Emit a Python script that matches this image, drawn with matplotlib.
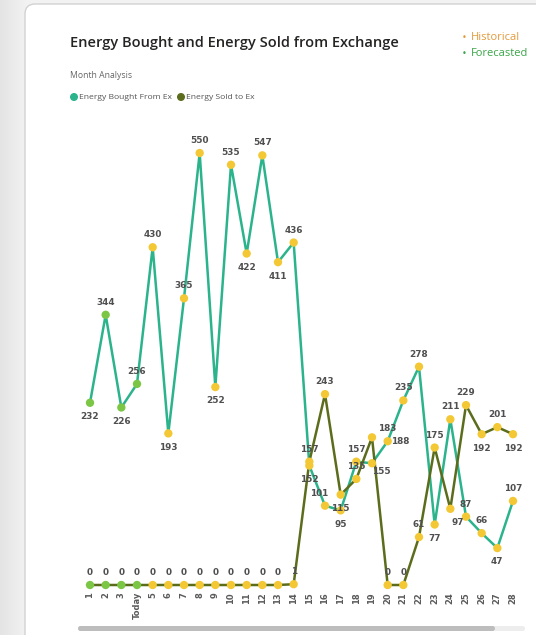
import numpy as np
import matplotlib
matplotlib.use('Agg')
import matplotlib.pyplot as plt
from matplotlib.patches import FancyBboxPatch, Circle

# Chart data
days = ['1', '2', '3', 'Today', '5', '6', '7', '8', '9', '10', '11', '12', '13', '14',
        '15', '16', '17', '18', '19', '20', '21', '22', '23', '24', '25', '26', '27', '28']
bought = [232, 344, 226, 256, 430, 193, 365, 550, 252, 535, 422, 547, 411, 436,
          152, 101, 95, 157, 155, 183, 235, 278, 77, 211, 87, 66, 47, 107]
sold = [0, 0, 0, 0, 0, 0, 0, 0, 0, 0, 0, 0, 0, 1,
        157, 243, 115, 135, 188, 0, 0, 61, 175, 97, 229, 192, 201, 192]
n_forecast = 4  # first points drawn in green

# label placement (points offset) per data point
bought_off = [(0, -10), (0, 9), (0, -10), (0, 9), (0, 9), (0, -10), (0, 9), (0, 9), (0, -10),
              (0, 9), (0, -10), (0, 9), (0, -10), (0, 9), (0, -10), (-4, 9), (0, -10), (0, 9),
              (7, -6), (0, 9), (0, 9), (0, 9), (0, -10), (0, 9), (0, 9), (0, 9), (0, -10), (0, 9)]
sold_off = [(0, 9)] * 14 + [(0, 9), (0, 9), (0, -10), (0, 9), (20, -3), (0, 9), (0, 9),
                            (0, 9), (0, 9), (5, -10), (0, 9), (0, -10), (0, 9), (0, -10)]

teal = '#2BB38C'
olive = '#5B6D1C'
yellow = '#F3C834'
green = '#7CC645'
lbl = '#4F4F4F'

W, H = 536, 635
fig = plt.figure(figsize=(W / 100, H / 100), dpi=100)
fig.patch.set_facecolor('#F2F2F2')

# background / card layer in pixel coordinates
bg = fig.add_axes([0, 0, 1, 1], zorder=0)
bg.axis('off')
grad = np.linspace(0, 1, 40).reshape(1, -1)
bg.imshow(grad, extent=(0, 28, H, 0), cmap=matplotlib.colors.LinearSegmentedColormap.from_list(
    'g', ['#E4E4E4', '#F3F3F3']), aspect='auto')
bg.add_patch(FancyBboxPatch((25, 4), 530, 650, boxstyle='round,pad=0,rounding_size=10',
                            facecolor='white', edgecolor='#D2D2D2', linewidth=1.0))
bg.set_xlim(0, W)
bg.set_ylim(H, 0)

# header
bg.text(70, 43, 'Energy Bought and Energy Sold from Exchange', fontsize=10.5,
        family='Open Sans', weight='semibold', color='#252423', va='center')
bg.text(462, 38, '•', fontsize=6, color='#E39A3B', va='center')
bg.text(471, 38, 'Historical', fontsize=8, family='Open Sans', color='#E39A3B', va='center')
bg.text(462, 54, '•', fontsize=6, color='#3AA649', va='center')
bg.text(471, 54, 'Forecasted', fontsize=8, family='Open Sans', color='#3AA649', va='center')
bg.text(70, 75, 'Month Analysis', fontsize=6.2, family='Open Sans', color='#666666', va='center')
bg.add_patch(Circle((74, 97), 3.3, color=teal))
bg.text(79, 97.5, 'Energy Bought From Ex', fontsize=6.1, family='Open Sans', color='#555555', va='center')
bg.add_patch(Circle((181, 97), 3.3, color=olive))
bg.text(186, 97.5, 'Energy Sold to Ex', fontsize=6.1, family='Open Sans', color='#555555', va='center')

# scrollbar
bg.add_patch(FancyBboxPatch((78, 626), 447, 5, boxstyle='round,pad=0,rounding_size=2.5',
                            facecolor='#EDEDED', edgecolor='none'))
bg.add_patch(FancyBboxPatch((78, 626), 417, 5, boxstyle='round,pad=0,rounding_size=2.5',
                            facecolor='#BDBDBD', edgecolor='none'))

# main chart
ax = fig.add_axes([90 / W, (H - 585) / H, 423 / W, (585 - 153) / H], zorder=1)
ax.patch.set_alpha(0)
x = np.arange(len(days))
ax.plot(x, bought, color=teal, lw=1.8, zorder=2, clip_on=False)
ax.plot(x, sold, color=olive, lw=1.8, zorder=3, clip_on=False)
mcol = [green] * n_forecast + [yellow] * (len(days) - n_forecast)
ax.scatter(x, bought, c=mcol, s=36, zorder=4, clip_on=False, linewidths=0)
ax.scatter(x, sold, c=mcol, s=36, zorder=4, clip_on=False, linewidths=0)

for xi, v, off in zip(x, bought, bought_off):
    ax.annotate(str(v), (xi, v), xytext=off, textcoords='offset points', ha='center',
                va='center', fontsize=6.4, weight='bold', color=lbl, zorder=6)
for xi, v, off in zip(x, sold, sold_off):
    ax.annotate(str(v), (xi, v), xytext=off, textcoords='offset points', ha='center',
                va='center', fontsize=6.4, weight='bold', color=lbl, zorder=6)

ax.set_xlim(0, len(days) - 1)
ax.set_ylim(0, 550)
ax.set_xticks(x)
ax.set_xticklabels(days, rotation=90, fontsize=6, color='#5A5A5A', weight='bold')
ax.tick_params(axis='x', length=0, pad=5)
ax.set_yticks([])
for s in ax.spines.values():
    s.set_visible(False)

fig.savefig('out.png', dpi=100, facecolor=fig.get_facecolor())
